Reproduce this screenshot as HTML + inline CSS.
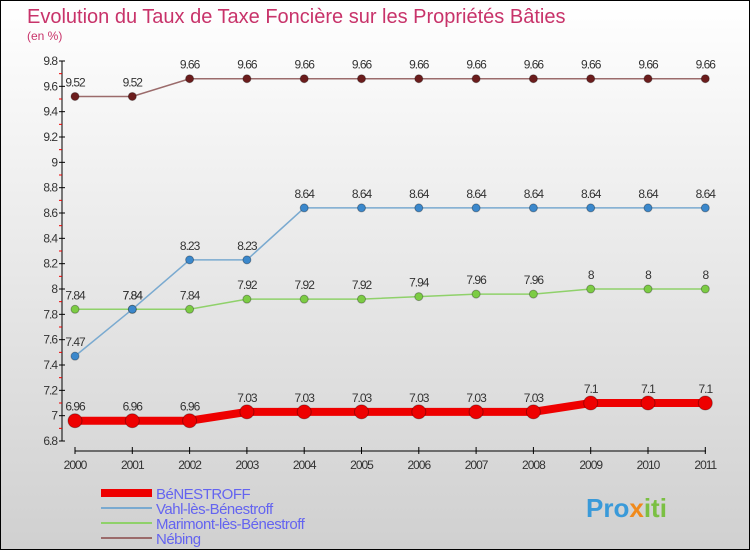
<!DOCTYPE html>
<html><head><meta charset="utf-8"><style>
body{margin:0}
#c{width:748px;height:548px;border:1px solid #000;background:linear-gradient(#fff,#d0d0d0);position:relative;overflow:hidden;font-family:"Liberation Sans",sans-serif}
</style></head><body>
<div id="c">
<svg id="s" width="748" height="548" style="position:absolute;left:0;top:0">
<text x="26" y="22" font-size="20" fill="#c8336a">Evolution du Taux de Taxe Foncière sur les Propriétés Bâties</text>
<text x="26" y="39" font-size="12" fill="#c8336a">(en %)</text>
<text x="585" y="516" font-size="26" font-weight="bold" fill="#3a9ad9">Pro<tspan fill="#f08a1c">x</tspan><tspan fill="#7bc043">iti</tspan></text>
</svg>
</div>
<script>
const years=["2000","2001","2002","2003","2004","2005","2006","2007","2008","2009","2010","2011"];
const benestroff=[6.96,6.96,6.96,7.03,7.03,7.03,7.03,7.03,7.03,7.1,7.1,7.1];
const vahl=[7.47,7.84,8.23,8.23,8.64,8.64,8.64,8.64,8.64,8.64,8.64,8.64];
const marimont=[7.84,7.84,7.84,7.92,7.92,7.92,7.94,7.96,7.96,8,8,8];
const nebing=[9.52,9.52,9.66,9.66,9.66,9.66,9.66,9.66,9.66,9.66,9.66,9.66];
const yTicks=["6.8","7","7.2","7.4","7.6","7.8","8","8.2","8.4","8.6","8.8","9","9.2","9.4","9.6","9.8"];
const legendNames=["BéNESTROFF","Vahl-lès-Bénestroff","Marimont-lès-Bénestroff","Nébing"];
const NS="http://www.w3.org/2000/svg",s=document.getElementById('s');
const X=i=>74+i*57.3, Y=v=>60+(9.8-v)*126.67;
function el(t,a,p){const e=document.createElementNS(NS,t);for(const k in a)e.setAttribute(k,a[k]);(p||s).appendChild(e);return e;}
// axes
let ax=el('line',{x1:61,y1:60,x2:61,y2:440,stroke:'#000'});


let xa=el('line',{x1:74,y1:450,x2:705,y2:450,stroke:'#000'});


yTicks.forEach(t=>{const v=+t,y=Y(v);
 el('line',{x1:58,y1:y,x2:64,y2:y,stroke:'#000'});
 if(v<9.8)el('line',{x1:58,y1:Y(v+0.1),x2:61,y2:Y(v+0.1),stroke:'#e00'});
 const tx=el('text',{x:56,y:y+4,'font-size':12,fill:'#333','text-anchor':'end','letter-spacing':'-1'});tx.textContent=t;
 
 
});
years.forEach((t,i)=>{el('line',{x1:X(i),y1:446,x2:X(i),y2:453,stroke:'#000'});
 const tx=el('text',{x:X(i),y:468,'font-size':12,fill:'#333','text-anchor':'middle','letter-spacing':'-1'});tx.textContent=t;
 
 
});
function series(d,col,dot,w,r,name){
 const g=el('g',{});
 
 
 el('polyline',{points:d.map((v,i)=>X(i)+','+Y(v)).join(' '),fill:'none',stroke:col,'stroke-width':w},g);
 d.forEach((v,i)=>{const c=el('circle',{cx:X(i),cy:Y(v),r:r,fill:dot,stroke:'rgba(0,0,0,0.3)'},g);
  
  
  const t=el('text',{x:X(i),y:Y(v)-10,'font-size':12,fill:'#333','text-anchor':'middle','letter-spacing':'-1'},g);t.textContent=String(v);
 });
}
series(nebing,'#9b6b6b','#6b1c1c',1.5,4,'nebing-series');
series(marimont,'#8fd16a','#7ccc44',1.5,4,'marimont-series');
series(vahl,'#7aaad0','#3b88cc',1.5,4,'vahl-series');
series(benestroff,'#ee0000','#ee0000',8,7,'benestroff-series');
const lc=['#ee0000','#7aaad0','#8fd16a','#9b6b6b'],lw=[8,2,2,2];
legendNames.forEach((n,i)=>{const y=492+i*15;
 const g=el('g',{});
 
 
 el('line',{x1:100,y1:y,x2:151,y2:y,stroke:lc[i],'stroke-width':lw[i]},g);
 const t=el('text',{x:155,y:y+6,'font-size':15,fill:'#6464f0','letter-spacing':'-0.5'},g);t.textContent=n;
});
</script>
</body></html>
